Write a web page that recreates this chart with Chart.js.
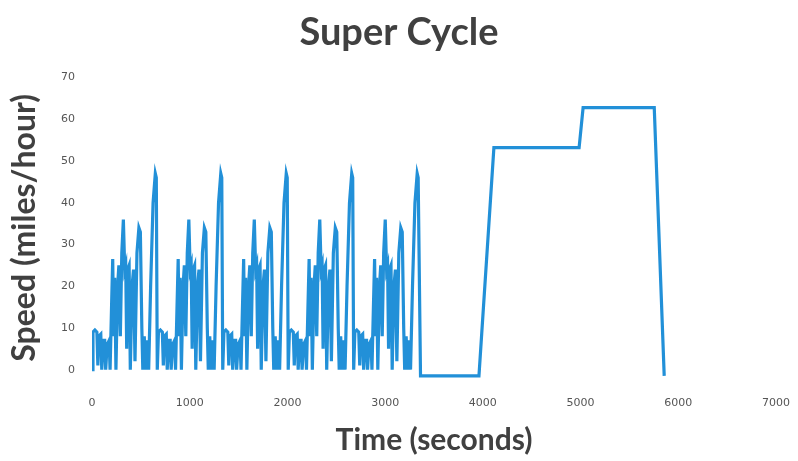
<!DOCTYPE html>
<html>
<head>
<meta charset="utf-8">
<script src="https://cdn.jsdelivr.net/npm/chart.js@4.4.1/dist/chart.umd.min.js"></script>
<style>
  html, body { margin: 0; padding: 0; background: #ffffff; }
  #speedChart { display: block; }
</style>
</head>
<body>
<canvas id="speedChart" width="798" height="461"></canvas>
<script>
// One urban-style cycle (seconds from cycle start, mph)
const cycleTime = [0, 10, 30, 50, 60, 70, 90, 100, 115, 130, 140, 155, 175, 185, 200, 212, 222, 232, 245, 262,
  275, 290, 305, 321, 335, 345, 355, 365, 380, 392, 410, 425, 440, 460, 480, 495, 510, 520, 535, 548,
  565, 580, 600, 625, 648, 658, 668];
const cycleSpeed = [0, 9, 9.5, 9, 1, 8, 8.5, 0, 7, 7, 0, 6, 7, 0, 15, 26.5, 8, 22, 0, 20,
  25, 8, 28, 36, 24, 25, 5, 24, 25, 0, 20, 24, 2, 28, 34, 33, 10, 0, 8, 0,
  7, 0, 20, 40, 47, 46, 0];
// The cycle repeats five times
const cycleStarts = [0, 670, 1340, 2010, 2680];

// Highway / high-speed part after the cycles
const tailTime = [3362, 3960, 4113, 4985, 5026, 5754, 5856];
const tailSpeed = [-1.5, -1.5, 53.2, 53.2, 62.8, 62.8, -1.5];

const xTicks = [0, 1000, 2000, 3000, 4000, 5000, 6000, 7000];
const yTicks = [0, 10, 20, 30, 40, 50, 60, 70];

const buildPoints = () => {
  const pts = [];
  cycleStarts.forEach((start, k) => {
    const last = k === cycleStarts.length - 1;
    cycleTime.forEach((t, i) => {
      if (last && i === cycleTime.length - 1) return; // last cycle drops into the flat section
      pts.push({x: start + t, y: cycleSpeed[i]});
    });
  });
  tailTime.forEach((t, i) => pts.push({x: t, y: tailSpeed[i]}));
  return pts;
};

const textColor = '#404040';
const tickColor = '#555555';

new Chart(document.getElementById('speedChart'), {
  type: 'line',
  data: {
    datasets: [{
      label: 'Speed',
      data: buildPoints(),
      borderColor: '#2290d8',
      borderWidth: 3.2,
      pointRadius: 0,
      tension: 0,
      fill: false,
    }],
  },
  options: {
    responsive: false,
    animation: false,
    layout: {padding: 0},
    plugins: {
      legend: {display: false},
      tooltip: {enabled: false},
      title: {
        display: true,
        text: 'Super Cycle',
        color: textColor,
        font: {family: 'Lato', size: 38, weight: 'bold'},
        padding: {top: 10, bottom: 22},
      },
    },
    scales: {
      x: {
        type: 'linear',
        min: 0,
        max: 7000,
        grid: {display: false, drawTicks: false},
        border: {display: false},
        afterBuildTicks: (scale) => { scale.ticks = xTicks.map(v => ({value: v})); },
        afterFit: (scale) => {
          scale.height = 83;
          scale.paddingLeft = 0;
          scale.paddingRight = 22; // keeps 7000 where the reference puts it
        },
        ticks: {
          padding: 19,
          color: tickColor,
          font: {family: 'DejaVu Sans', size: 11},
          maxRotation: 0,
          callback: (value) => String(value),
        },
        title: {
          display: true,
          text: 'Time (seconds)',
          color: textColor,
          font: {family: 'Lato', size: 30, weight: 'bold'},
          padding: {top: 0, bottom: 3},
        },
      },
      y: {
        min: -2,
        max: 70,
        grid: {display: false, drawTicks: false},
        border: {display: false},
        afterBuildTicks: (scale) => { scale.ticks = yTicks.map(v => ({value: v})); },
        afterFit: (scale) => { scale.width = 92; },
        ticks: {
          padding: 17,
          color: tickColor,
          font: {family: 'DejaVu Sans', size: 11},
          callback: (value) => String(value),
        },
        title: {
          display: true,
          text: 'Speed (miles/hour)',
          color: textColor,
          font: {family: 'Lato', size: 32, weight: 'bold'},
          padding: {top: 5, bottom: 0},
        },
      },
    },
  },
});
</script>
</body>
</html>
